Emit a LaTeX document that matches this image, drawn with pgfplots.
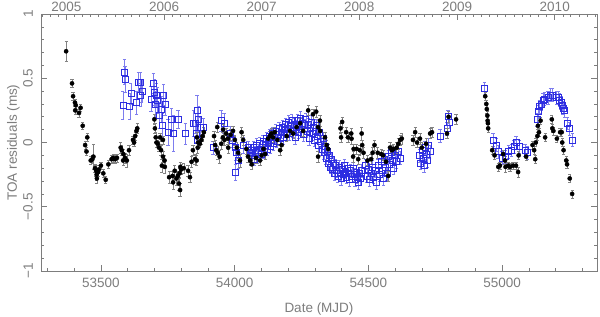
\documentclass[border=0pt]{standalone}
\usepackage{fontspec}
\setmainfont{Liberation Sans}
\usepackage{pgfplots}
\usepackage{pgfplotstable}
\pgfplotsset{compat=1.18}
\definecolor{sqblue}{RGB}{45,45,225}
\definecolor{errblue}{RGB}{125,125,238}
\definecolor{axgray}{RGB}{125,125,125}
\definecolor{errgray}{RGB}{130,130,130}

\pgfplotstableread{
x y e
53370 0.71 0.08
53392 0.46 0.03
53396 0.36 0.03
53403 0.31 0.03
53406 0.29 0.03
53404 0.25 0.03
53418 0.23 0.03
53424 0.27 0.03
53432 0.13 0.03
53441 -0.02 0.03
53446 -0.07 0.03
53449 0.04 0.03
53462 -0.14 0.03
53468 -0.13 0.03
53472 -0.11 0.10
53478 -0.20 0.03
53482 -0.22 0.04
53484 -0.25 0.04
53486 -0.23 0.03
53490 -0.23 0.03
53485 -0.28 0.04
53492 -0.21 0.03
53500 -0.18 0.03
53509 -0.24 0.03
53518 -0.29 0.03
53528 -0.17 0.03
53540 -0.13 0.03
53546 -0.12 0.03
53553 -0.13 0.03
53560 -0.12 0.03
53574 -0.04 0.04
53578 -0.06 0.04
53584 -0.09 0.04
53583 -0.14 0.04
53590 -0.12 0.04
53597 -0.14 0.05
53605 -0.06 0.04
53620 0.02 0.03
53624 0.00 0.03
53628 0.05 0.03
53633 0.09 0.03
53636 0.11 0.04
53700 0.18 0.04
53702 0.11 0.04
53705 0.04 0.04
53708 0.00 0.04
53713 -0.01 0.03
53717 -0.04 0.03
53721 0.04 0.03
53732 0.02 0.03
53725 -0.06 0.04
53732 -0.11 0.04
53738 -0.14 0.04
53728 -0.18 0.05
53739 -0.19 0.05
53755 -0.27 0.05
53768 -0.26 0.04
53776 -0.22 0.04
53782 -0.28 0.05
53788 -0.26 0.04
53794 -0.24 0.04
53797 -0.19 0.04
53792 -0.32 0.05
53770 -0.31 0.05
53796 -0.37 0.05
53800 -0.21 0.04
53810 -0.20 0.04
53826 -0.22 0.04
53833 -0.27 0.04
53839 -0.15 0.04
53844 -0.06 0.04
53852 -0.13 0.04
53858 -0.14 0.04
53862 -0.04 0.04
53859 0.04 0.04
53864 0.00 0.04
53870 -0.01 0.03
53876 0.02 0.03
53880 0.05 0.04
53885 0.08 0.04
53923 0.05 0.04
53927 -0.02 0.04
53931 -0.06 0.04
53935 0.12 0.04
53937 -0.08 0.05
53944 -0.11 0.05
53950 -0.01 0.04
53956 0.04 0.04
53957 0.10 0.04
53962 0.02 0.04
53968 0.07 0.04
53975 0.03 0.04
53976 -0.04 0.04
53985 0.06 0.04
53994 0.09 0.04
54001 0.02 0.04
54008 -0.04 0.04
54013 -0.08 0.04
54020 -0.14 0.05
54026 0.08 0.04
54032 0.02 0.04
54044 -0.05 0.04
54050 -0.11 0.04
54058 -0.14 0.04
54064 -0.17 0.04
54080 -0.12 0.04
54095 -0.14 0.04
54101 -0.10 0.04
54108 -0.05 0.04
54114 -0.09 0.04
54125 0.03 0.04
54132 0.05 0.04
54138 0.07 0.04
54144 0.04 0.04
54150 0.08 0.04
54160 0.02 0.04
54170 -0.06 0.04
54176 -0.02 0.04
54195 0.05 0.04
54207 0.09 0.04
54219 0.07 0.04
54232 0.12 0.04
54245 0.15 0.04
54256 0.09 0.04
54275 0.25 0.04
54293 0.22 0.04
54305 0.24 0.04
54312 0.12 0.04
54312 -0.11 0.04
54319 0.17 0.04
54320 0.09 0.04
54338 0.04 0.04
54344 -0.02 0.04
54350 -0.05 0.04
54396 0.11 0.04
54398 0.04 0.04
54402 0.16 0.04
54417 0.08 0.04
54424 0.04 0.04
54436 0.07 0.04
54437 0.03 0.04
54443 -0.11 0.04
54445 -0.05 0.04
54456 -0.05 0.04
54462 -0.13 0.04
54468 -0.06 0.04
54475 0.07 0.05
54477 -0.02 0.04
54482 -0.08 0.04
54497 -0.14 0.04
54510 -0.13 0.04
54516 -0.08 0.04
54523 -0.02 0.04
54535 -0.08 0.04
54548 -0.09 0.04
54555 -0.10 0.04
54566 -0.15 0.04
54574 -0.26 0.04
54581 -0.04 0.04
54588 -0.06 0.04
54594 -0.05 0.04
54606 -0.04 0.04
54612 -0.01 0.04
54619 0.02 0.04
54625 0.03 0.04
54667 0.02 0.04
54675 0.08 0.04
54682 0.00 0.04
54693 0.03 0.04
54700 -0.04 0.04
54716 -0.01 0.04
54731 0.07 0.04
54738 0.08 0.04
54794 0.07 0.04
54800 0.20 0.04
54828 0.18 0.04
54937 0.36 0.03
54941 0.30 0.03
54943 0.26 0.03
54945 0.21 0.03
54946 0.17 0.03
54947 0.15 0.03
54948 0.11 0.03
54963 -0.06 0.03
54972 -0.10 0.03
54986 -0.19 0.03
54992 -0.18 0.03
55004 -0.09 0.03
55011 -0.14 0.03
55013 -0.19 0.04
55023 -0.18 0.03
55030 -0.19 0.03
55041 -0.18 0.03
55052 -0.18 0.03
55060 -0.23 0.04
55062 -0.10 0.03
55090 -0.11 0.03
55114 -0.02 0.03
55120 -0.06 0.03
55124 -0.13 0.03
55126 0.00 0.03
55132 0.05 0.03
55134 0.13 0.03
55138 0.08 0.03
55144 0.17 0.03
55161 0.04 0.03
55186 0.18 0.03
55188 0.11 0.03
55192 0.09 0.03
55205 0.03 0.03
55217 0.08 0.03
55223 0.08 0.03
55225 0.00 0.03
55230 -0.06 0.03
55240 -0.14 0.03
55243 -0.17 0.03
55253 -0.28 0.03
55262 -0.40 0.03
}\blackdata

\pgfplotstableread{
x y e
53582 0.29 0.11
53588 0.55 0.10
53590 0.49 0.10
53608 0.28 0.10
53612 0.38 0.08
53633 0.31 0.09
53640 0.47 0.08
53646 0.47 0.08
53649 0.37 0.09
53653 0.40 0.09
53687 0.34 0.10
53696 0.46 0.08
53700 0.39 0.10
53702 0.30 0.10
53706 0.37 0.09
53712 0.33 0.10
53718 0.21 0.10
53725 0.26 0.10
53731 0.13 0.10
53734 0.37 0.08
53740 0.30 0.09
53751 0.08 0.10
53764 0.18 0.09
53770 0.07 0.14
53788 0.18 0.07
53815 0.07 0.08
53846 0.15 0.10
53852 0.15 0.08
53856 0.07 0.07
53859 0.25 0.12
53862 0.02 0.07
53865 0.18 0.10
53871 0.12 0.08
53884 0.12 0.07
53919 -0.04 0.05
53949 0.17 0.08
53960 0.15 0.08
53983 0.07 0.06
53992 0.02 0.06
54002 -0.04 0.06
54003 -0.23 0.06
54005 -0.08 0.06
54013 -0.14 0.06
54031 -0.02 0.06
54050 -0.04 0.05
54058 -0.08 0.05
54062 -0.06 0.05
54066 -0.10 0.05
54070 -0.04 0.05
54074 -0.13 0.05
54078 -0.08 0.05
54082 -0.02 0.05
54086 -0.11 0.05
54090 -0.06 0.05
54094 -0.01 0.05
54098 -0.09 0.05
54102 -0.04 0.05
54106 0.01 0.05
54110 -0.07 0.05
54114 -0.02 0.05
54118 0.03 0.05
54122 -0.05 0.05
54126 0.00 0.05
54130 0.05 0.05
54134 -0.03 0.05
54138 0.02 0.05
54142 0.07 0.05
54146 -0.01 0.05
54150 0.04 0.05
54154 0.09 0.05
54158 0.01 0.05
54162 0.06 0.05
54166 0.11 0.05
54170 0.03 0.05
54174 0.08 0.05
54178 0.12 0.05
54182 0.04 0.05
54186 0.10 0.05
54190 0.14 0.05
54194 0.06 0.05
54198 0.11 0.05
54202 0.16 0.05
54206 0.07 0.05
54210 0.13 0.05
54214 0.17 0.05
54218 0.09 0.05
54222 0.14 0.05
54226 0.04 0.05
54230 0.12 0.05
54234 0.17 0.05
54238 0.08 0.05
54242 0.14 0.05
54246 0.19 0.05
54250 0.10 0.05
54254 0.15 0.05
54258 0.06 0.05
54262 0.13 0.05
54266 0.18 0.05
54270 0.09 0.05
54274 0.14 0.05
54278 0.03 0.05
54282 0.11 0.05
54286 0.16 0.05
54290 0.07 0.05
54294 0.12 0.05
54298 0.02 0.05
54302 0.09 0.05
54306 0.13 0.05
54310 0.05 0.05
54314 -0.02 0.05
54318 0.08 0.05
54322 0.01 0.05
54326 -0.05 0.05
54330 0.03 0.05
54334 -0.08 0.05
54338 -0.03 0.05
54342 -0.12 0.05
54346 -0.07 0.05
54350 -0.16 0.05
54354 -0.10 0.05
54358 -0.19 0.05
54362 -0.13 0.05
54366 -0.21 0.05
54370 -0.16 0.05
54374 -0.24 0.05
54378 -0.18 0.05
54382 -0.22 0.05
54386 -0.26 0.05
54390 -0.19 0.05
54394 -0.24 0.05
54398 -0.28 0.05
54402 -0.21 0.05
54406 -0.25 0.05
54410 -0.18 0.05
54414 -0.23 0.05
54418 -0.27 0.05
54422 -0.20 0.05
54426 -0.24 0.05
54430 -0.29 0.05
54434 -0.22 0.05
54438 -0.26 0.05
54442 -0.20 0.05
54446 -0.25 0.05
54450 -0.29 0.05
54454 -0.23 0.05
54458 -0.27 0.05
54462 -0.31 0.05
54466 -0.24 0.05
54470 -0.28 0.05
54474 -0.22 0.05
54490 -0.18 0.05
54495 -0.26 0.05
54500 -0.21 0.05
54505 -0.29 0.05
54510 -0.24 0.05
54515 -0.19 0.05
54520 -0.27 0.05
54525 -0.22 0.05
54530 -0.31 0.05
54536 -0.18 0.05
54542 -0.25 0.05
54548 -0.15 0.05
54552 -0.22 0.05
54556 -0.28 0.05
54560 -0.13 0.05
54565 -0.19 0.05
54570 -0.24 0.05
54575 -0.11 0.05
54580 -0.17 0.05
54585 -0.08 0.05
54590 -0.14 0.05
54595 -0.20 0.05
54600 -0.10 0.05
54606 -0.15 0.05
54612 -0.07 0.05
54618 -0.12 0.05
54690 -0.10 0.05
54695 -0.16 0.05
54700 -0.06 0.05
54705 -0.12 0.05
54708 -0.18 0.05
54712 -0.04 0.05
54716 -0.09 0.05
54720 -0.14 0.05
54725 -0.02 0.05
54730 -0.07 0.05
54768 0.05 0.05
54794 0.11 0.05
54798 0.20 0.05
54801 0.16 0.05
54933 0.42 0.05
54966 0.02 0.05
54978 -0.02 0.05
54985 -0.07 0.05
55000 -0.12 0.05
55011 -0.11 0.05
55023 -0.07 0.05
55035 -0.06 0.05
55045 -0.03 0.05
55052 0.00 0.05
55065 -0.03 0.05
55086 -0.06 0.05
55094 -0.08 0.05
55131 0.18 0.05
55135 0.24 0.05
55139 0.28 0.05
55146 0.30 0.05
55153 0.33 0.05
55158 0.34 0.05
55172 0.35 0.05
55180 0.37 0.05
55189 0.37 0.05
55203 0.35 0.05
55210 0.35 0.05
55215 0.33 0.05
55220 0.31 0.05
55224 0.29 0.05
55228 0.27 0.05
55232 0.25 0.05
55245 0.15 0.05
55252 0.11 0.05
55262 0.02 0.05
}\bluedata

\begin{document}
\begin{tikzpicture}
\path[use as bounding box] (-41bp,-46bp) rectangle (559bp,271bp);
\pgfplotsset{
  every axis/.append style={
    scale only axis, width=556bp, height=257bp,
    xmin=53276, xmax=55355, ymin=-1, ymax=1,
    scaled x ticks=false, scaled y ticks=false,
    axis line style={axgray, line width=0.6bp},
    tick style={axgray, line width=0.6bp},
    major tick length=6bp, minor tick length=3bp,
    tick align=inside,
    tick label style={axgray, font=\fontsize{13.5bp}{16bp}\selectfont},
    label style={axgray, font=\fontsize{13.5bp}{16bp}\selectfont},
  }
}
\begin{axis}[
  xtick pos=bottom,
  xtick={53500,54000,54500,55000},
  xticklabels={53500,54000,54500,55000},
  minor xtick={53300,53400,53600,53700,53800,53900,54100,54200,54300,54400,54600,54700,54800,54900,55100,55200,55300},
  ytick={-1,-0.5,0,0.5,1},
  yticklabels={−1,−0.5,0,0.5,1},
  minor ytick={-0.9,-0.8,-0.7,-0.6,-0.4,-0.3,-0.2,-0.1,0.1,0.2,0.3,0.4,0.6,0.7,0.8,0.9},
  yticklabel style={rotate=90, anchor=south, inner sep=0pt, yshift=8bp},
  xticklabel style={inner sep=0pt, yshift=-7bp},
  xlabel={Date (MJD)},
  ylabel={TOA residuals (ms)},
  xlabel style={at={(axis description cs:0.5,-0.1634)}, anchor=base},
  ylabel style={at={(axis description cs:-0.0432,0.5)}, anchor=base},
]
\addplot[only marks, mark=square, mark size=3bp, mark options={sqblue, line width=0.6bp},
  error bars/.cd, y dir=both, y explicit,
  error bar style={errblue, line width=0.45bp},
  error mark options={errblue, mark size=1.6bp, line width=0.45bp, rotate=90}]
  table[x=x, y=y, y error=e] {\bluedata};
\addplot[only marks, mark=*, mark size=2.1bp, mark options={black, fill=black},
  error bars/.cd, y dir=both, y explicit,
  error bar style={errgray, line width=0.45bp},
  error mark options={errgray, mark size=1.6bp, line width=0.45bp, rotate=90}]
  table[x=x, y=y, y error=e] {\blackdata};
\end{axis}
\begin{axis}[
  axis x line*=top, hide y axis,
  xtick={53371,53736,54101,54466,54832,55197},
  xticklabels={2005,2006,2007,2008,2009,2010},
  minor xtick={53279,53310,53340,53402,53430,53461,53491,53522,53552,53583,53614,53644,53675,53705,53767,53795,53826,53856,53887,53917,53948,53979,54009,54040,54070,54132,54160,54191,54221,54252,54282,54313,54344,54374,54405,54435,54497,54526,54557,54587,54618,54648,54679,54710,54740,54771,54801,54863,54891,54922,54952,54983,55013,55044,55075,55105,55136,55166,55228,55256,55287,55317,55348},
  xticklabel style={inner sep=0pt, yshift=2bp},
]
\end{axis}
\end{tikzpicture}
\end{document}
